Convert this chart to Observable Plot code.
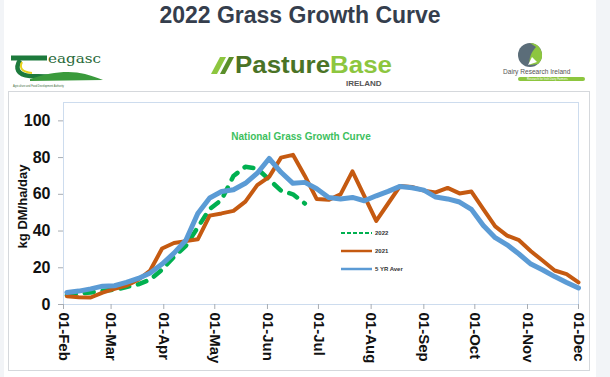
<!DOCTYPE html>
<html><head><meta charset="utf-8">
<script src="https://cdn.jsdelivr.net/npm/d3@7"></script>
<script src="https://cdn.jsdelivr.net/npm/@observablehq/plot@0.6"></script>
<style>
html,body{margin:0;padding:0;}
body{width:610px;height:377px;background:#f2f4f7;position:relative;overflow:hidden;font-family:"Liberation Sans",Arial,sans-serif;}
#page{position:absolute;left:4px;top:0;width:592px;height:377px;background:#fff;}
#title{position:absolute;left:0;top:2px;width:600px;text-align:center;font:bold 23px "Liberation Sans",Arial,sans-serif;color:#353e4d;}
#box{position:absolute;left:8px;top:91px;width:582px;height:280px;border:1px solid #d5d8dc;box-sizing:border-box;}
#chart{position:absolute;left:0;top:91px;}
#logos{position:absolute;left:0;top:36px;}
#legend{position:absolute;left:0;top:0;pointer-events:none;}
#chart svg text{font-family:"Liberation Sans",Arial,sans-serif;}
#chart g[aria-label="x-axis tick label"] text{font-weight:bold;font-size:15px;fill:#111;}
#chart g[aria-label="y-axis tick label"] text{font-weight:bold;font-size:16px;fill:#111;}
</style>
</head><body>
<div id="page"></div>
<div id="title">2022 Grass Growth Curve</div>
<svg id="logos" width="610" height="56" viewBox="0 36 610 56">
  <!-- Teagasc -->
  <path d="M11 58 L47 58" stroke="#1d7a3c" stroke-width="5" fill="none"/>
  <path d="M20 60 C15 68 17 75 30 76 L62 77" stroke="#1d7a3c" stroke-width="4.5" fill="none"/>
  <path d="M22 62 C19 68 22 72 32 73" stroke="#e8d31c" stroke-width="2" fill="none"/>
  <path d="M30 79 C50 72 70 70 85 74 C92 76 98 78 103 80 L30 81 Z" fill="#3a9a3c"/>
  <text x="48" y="63" font-family="DejaVu Serif,serif" font-size="13" textLength="53" lengthAdjust="spacingAndGlyphs" fill="#2a6a3a">eagasc</text>
  <text x="13" y="87" font-family="Liberation Sans" font-size="2.6" fill="#3a6a3a">Agriculture and Food Development Authority</text>
  <!-- PastureBase -->
  <path d="M211 74 L220 57 L226 57 L217 74 Z" fill="#8dc63f"/>
  <path d="M220 74 L229 57 L234 57 L225 74 Z" fill="#5a8f2a"/>
  <text x="235" y="73" font-family="'Liberation Sans',Arial" font-weight="bold" font-size="24" textLength="157" lengthAdjust="spacingAndGlyphs" fill="#4a7326">Pasture<tspan fill="#8dc63f">Base</tspan></text>
  <text x="346" y="86" font-family="'Liberation Sans',Arial" font-weight="bold" font-size="8" fill="#555">IRELAND</text>
  <!-- Dairy Research Ireland -->
  <circle cx="530" cy="55" r="12" fill="#5b6d79"/>
  <path d="M530 43 A12 12 0 0 1 538 64 L530 65 C528 59 532 51 536 47 Z" fill="#8dc63f"/>
  <path d="M528 65 L532 57 L537 62" fill="#fff"/>
  <text x="503" y="74" font-family="'Liberation Sans',Arial" font-size="6.6" fill="#555">Dairy Research Ireland</text>
  <rect x="518" y="77" width="67" height="4" rx="2" fill="#8dc63f"/>
  <text x="527" y="80.3" font-family="'Liberation Sans',Arial" font-size="2.8" fill="#fff">Research for Irish Dairy Farmers</text>
</svg>
<div id="box"></div>
<div id="chart"></div>
<script>
const weekDates = ["2022-02-03","2022-02-10","2022-02-17","2022-02-24","2022-03-03","2022-03-10","2022-03-17","2022-03-24","2022-03-31","2022-04-07","2022-04-14","2022-04-21","2022-04-28","2022-05-05","2022-05-12","2022-05-19","2022-05-26","2022-06-02","2022-06-09","2022-06-16","2022-06-23","2022-06-30","2022-07-07","2022-07-14","2022-07-21","2022-07-28","2022-08-04","2022-08-11","2022-08-18","2022-08-25","2022-09-01","2022-09-08","2022-09-15","2022-09-22","2022-09-29","2022-10-06","2022-10-13","2022-10-20","2022-10-27","2022-11-03","2022-11-10","2022-11-17","2022-11-24","2022-12-01"];
const growth2022 = [5,6,6.5,7.5,8,9.5,11,13.5,19,26,32,42,52,57,70,75,74,68,62,60,55];
const growth2021 = [4.5,4,3.8,6.5,8.5,10.3,13.5,18.5,30.5,33.5,34.5,35.5,48.4,49.6,51,56,65,69.5,80,81.5,70,57.4,57,60,72.5,59,45.5,55,64.5,64,62,61,63.5,60.5,61.5,52,42.5,37.5,35,29,23.8,18.5,16.5,12];
const avg5yr = [6.5,7.3,8.5,10,10.2,12,14.2,17.2,22,28,35,49.5,58,61.5,62.5,66,71.5,79.5,72,66,66.5,63,58.3,57.5,58.3,56.5,59.2,61.6,64.3,63.6,62.3,58.5,57.5,55.8,51.8,43,36.4,32.5,27.5,22,18.8,15.2,12,9];
const tickDates = ["2022-02-01","2022-03-01","2022-04-01","2022-05-01","2022-06-01","2022-07-01","2022-08-01","2022-09-01","2022-10-01","2022-11-01","2022-12-01"];
const tickLabels = ["01-Feb","01-Mar","01-Apr","01-May","01-Jun","01-Jul","01-Aug","01-Sep","01-Oct","01-Nov","01-Dec"];
const yTicks = [0,20,40,60,80,100];
const yLabel = "kg DM/ha/day";
const chartNote = "National Grass Growth Curve";
const seriesNames = ["2022","2021","5 YR Aver"];
const seriesColors = ["#00b050","#c55a11","#5b9bd5"];

const toRows = vals => vals.map((v,i)=>({date:new Date(weekDates[i]), v}));
const tickD = tickDates.map(d=>new Date(d));

const chart = Plot.plot({
  width: 610, height: 286,
  marginLeft: 63, marginRight: 32, marginTop: 11, marginBottom: 73,
  x: {type:"utc", domain:[tickD[0], tickD[tickD.length-1]]},
  y: {domain:[0,110]},
  marks: [
    Plot.frame({stroke:"#cddcee"}),
    Plot.axisX({ticks: tickD, tickFormat: d => tickLabels[tickD.findIndex(t=>+t===+d)], tickRotate: 90, tickSize: 5, tickPadding: 3, stroke:"#a8adb3", label: null}),
    Plot.axisY({ticks: yTicks, tickSize: 5, tickPadding: 8, stroke:"#a8adb3", label: null}),
    Plot.text([yLabel], {frameAnchor:"left", textAnchor:"middle", dx: -41, dy: 3, rotate: -90, fill:"#111", fontWeight:"bold", fontSize: 13}),
    Plot.text([chartNote], {frameAnchor:"top", dy: 30, dx: -20, fill:"#3dbf5e", fontWeight:"bold", fontSize: 10, fontFamily:"Lato"}),
    Plot.line(toRows(growth2022), {x:"date", y:"v", stroke:seriesColors[0], strokeWidth:4.5, strokeDasharray:"9,9", strokeLinecap:"round", strokeLinejoin:"round"}),
    Plot.line(toRows(growth2021), {x:"date", y:"v", stroke:seriesColors[1], strokeWidth:4, strokeLinejoin:"round"}),
    Plot.line(toRows(avg5yr), {x:"date", y:"v", stroke:seriesColors[2], strokeWidth:5, strokeLinejoin:"round", strokeLinecap:"round"})
  ]
});
document.getElementById("chart").appendChild(chart);

// legend inside the plot area
const lg = d3.select("body").append("svg").attr("id","legend").attr("width",610).attr("height",377);
seriesNames.forEach((name,i)=>{
  const y = 233 + i*18;
  lg.append("line").attr("x1",341).attr("x2",372).attr("y1",y).attr("y2",y)
    .attr("stroke",seriesColors[i]).attr("stroke-width", i===0?2:2.5)
    .attr("stroke-dasharray", i===0?"4,2":null);
  lg.append("text").attr("x",375).attr("y",y+2).attr("font-size",6).attr("font-weight","bold")
    .attr("font-family","Liberation Sans, Arial").attr("fill","#333").text(name);
});
</script>
</body></html>
